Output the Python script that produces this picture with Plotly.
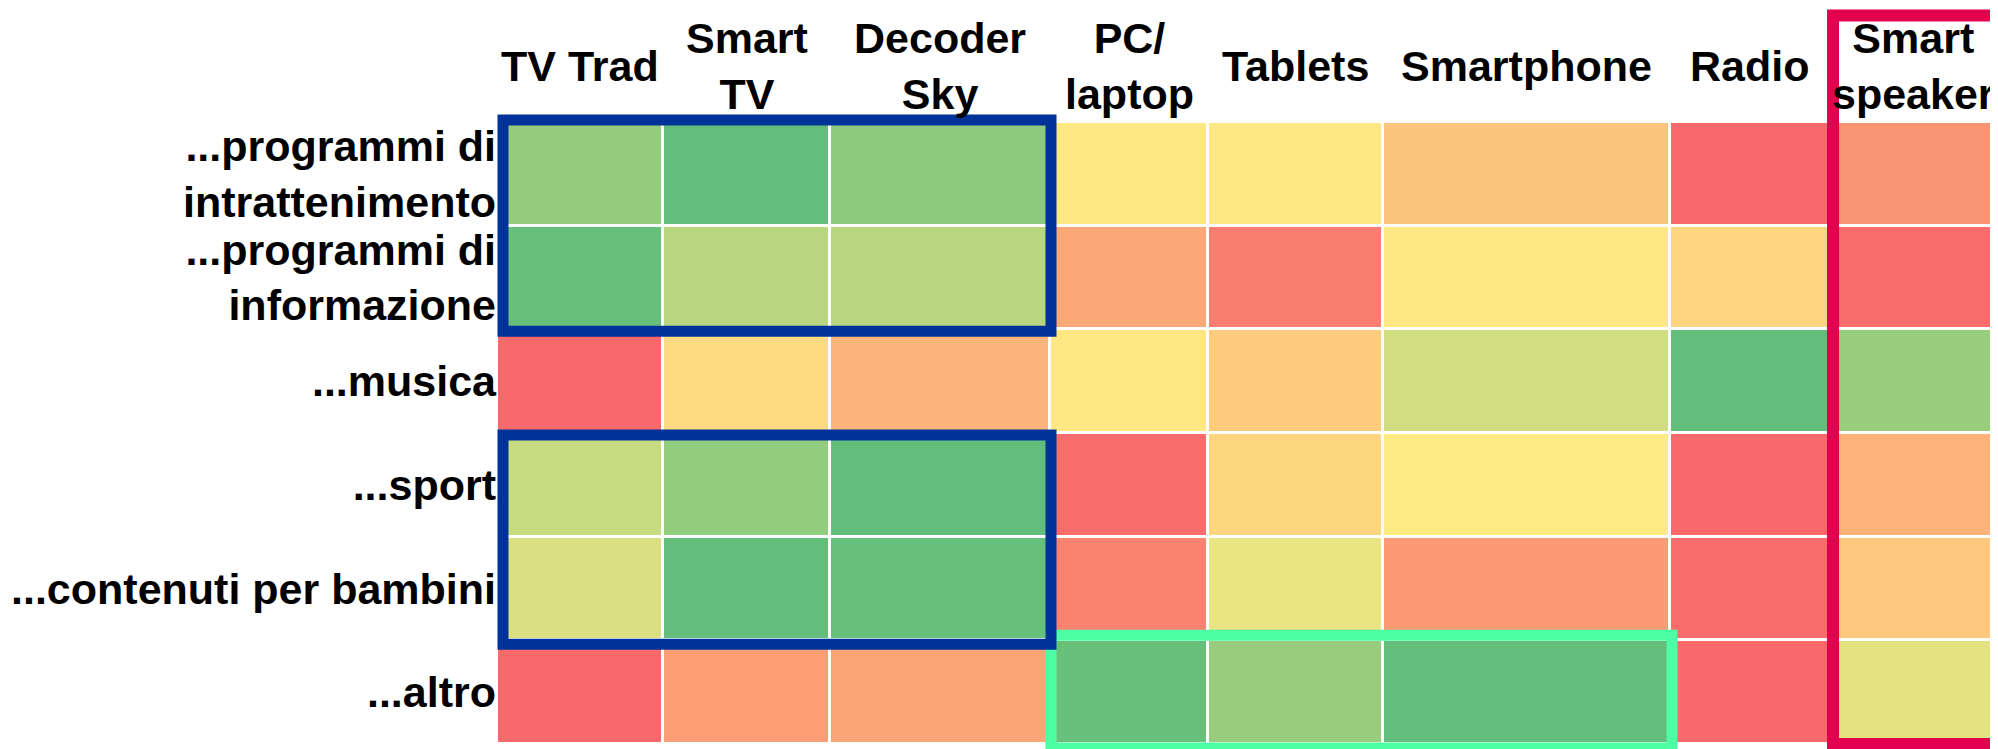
import plotly.graph_objects as go

# Devices (columns) and content types (rows)
devices = ["TV Trad", "Smart<br>TV", "Decoder<br>Sky", "PC/<br>laptop", "Tablets",
           "Smartphone", "Radio", "Smart<br>speaker"]
contents = ["...programmi di<br>intrattenimento", "...programmi di<br>informazione",
            "...musica", "...sport", "...contenuti per bambini", "...altro"]

intrattenimento = [0.84, 1.00, 0.87, 0.49, 0.49, 0.35, 0.00, 0.17]
informazione = [0.99, 0.72, 0.72, 0.24, 0.08, 0.49, 0.41, 0.01]
musica = [0.00, 0.44, 0.29, 0.49, 0.38, 0.65, 1.00, 0.83]
sport = [0.68, 0.85, 1.00, 0.01, 0.42, 0.50, 0.00, 0.28]
bambini = [0.62, 1.00, 0.99, 0.10, 0.57, 0.19, 0.01, 0.36]
altro = [0.00, 0.20, 0.23, 0.98, 0.83, 1.00, 0.00, 0.59]
z = [intrattenimento, informazione, musica, sport, bambini, altro]

# layout (pixels, figure coords; the page adds an 8px body margin)
W, H = 1990, 741
PLOT_L, PLOT_T, PLOT_B = 489, 114, 736
col_widths = [166, 167, 220, 158, 175, 287, 159, 169]

x_edges = [0]
for w in col_widths:
    x_edges.append(x_edges[-1] + w)
total_w = x_edges[-1]
row_h = (PLOT_B - PLOT_T) / len(contents)
col_px = [PLOT_L + e for e in x_edges]
row_px = [PLOT_T + i * row_h for i in range(len(contents) + 1)]


def px_x(v):
    return (v - PLOT_L) / total_w


def px_y(v):
    return (PLOT_B - v) / (PLOT_B - PLOT_T)


FONT = "Liberation Sans, Arial, sans-serif"

fig = go.Figure()
fig.add_trace(go.Heatmap(
    z=z,
    x=x_edges,
    y=list(range(len(contents))),
    colorscale=[[0, "#F8696B"], [0.5, "#FFEB84"], [1, "#63BE7B"]],
    zmin=0, zmax=1,
    xgap=3, ygap=3,
    showscale=False,
    hoverinfo="skip",
))

# column headers as annotations so single/double lines are centred
for i, d in enumerate(devices):
    fig.add_annotation(
        text=d, xref="paper", yref="paper",
        x=px_x((col_px[i] + col_px[i + 1]) / 2), y=px_y(58),
        xanchor="center", yanchor="middle", showarrow=False,
        font=dict(family=FONT, size=43, color="black", weight="bold"),
    )


def frame(x0, x1, y0, y1, color, width):
    fig.add_shape(
        type="rect", xref="paper", yref="paper",
        x0=px_x(x0), x1=px_x(x1), y0=px_y(y0), y1=px_y(y1),
        line=dict(color=color, width=width), fillcolor="rgba(0,0,0,0)",
    )


# highlight frames
frame(col_px[3] + 1, col_px[6] + 2, row_px[5] - 5, row_px[6] + 4, "#4CFFA5", 11)
frame(col_px[0] + 6, col_px[3] + 1, row_px[0] - 2, row_px[2] + 2, "#003399", 11)
frame(col_px[0] + 6, col_px[3] + 1, row_px[3] + 2, row_px[5] + 4, "#003399", 11)
frame(col_px[7] + 4, col_px[8] + 5, 7.5, row_px[6], "#E3004F", 12)

fig.update_layout(
    width=W, height=H,
    margin=dict(l=PLOT_L, r=W - PLOT_L - total_w, t=PLOT_T, b=H - PLOT_B),
    paper_bgcolor="white", plot_bgcolor="white",
    font=dict(family=FONT, color="black"),
    xaxis=dict(range=[0, total_w], showticklabels=False, showgrid=False,
               zeroline=False, ticks="", automargin=False),
    yaxis=dict(range=[len(contents) - 0.5, -0.5], tickvals=list(range(len(contents))),
               ticktext=contents, showgrid=False, zeroline=False, ticks="",
               automargin=False,
               tickfont=dict(family=FONT, size=43, color="black", weight="bold")),
)

fig.write_html("out.html")
